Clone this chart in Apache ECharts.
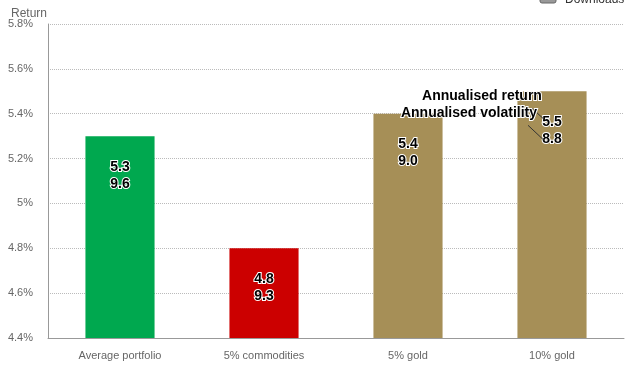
<!DOCTYPE html>
<html><head><meta charset="utf-8">
<script src="https://cdn.jsdelivr.net/npm/echarts@6/dist/echarts.min.js"></script>
<style>html,body{margin:0;padding:0;background:#fff}#c{width:629px;height:371px}</style>
</head><body><div id="c"></div>
<script>
var categories = ['Average portfolio', '5% commodities', '5% gold', '10% gold'];
var returns = [5.3, 4.8, 5.4, 5.5];
var volatility = [9.6, 9.3, 9.0, 8.8];
var barColors = ['#00A84F', '#CC0000', '#A68F57', '#A68F57'];
var yTicks = {min: 4.4, max: 5.8, interval: 0.2};
var annotationLines = ['Annualised return', 'Annualised volatility'];

var FONT = '"Liberation Sans", Arial, Helvetica, sans-serif';
var chart = echarts.init(document.getElementById('c'), null, {renderer: 'canvas'});
var data = returns.map(function (v, i) {
  return {value: v, itemStyle: {color: barColors[i]}, vol: volatility[i]};
});
chart.setOption({
  animation: false,
  textStyle: {fontFamily: FONT},
  title: {text: 'Return', left: 6, top: 3, textStyle: {fontSize: 12, fontWeight: 'normal', color: '#666', fontFamily: FONT}},
  grid: {left: 48, right: 5, top: 24, bottom: 33},
  xAxis: {
    type: 'category', data: categories,
    axisLine: {lineStyle: {color: '#999'}},
    axisTick: {show: false},
    axisLabel: {color: '#666', fontSize: 11, margin: 12, fontFamily: FONT}
  },
  yAxis: {
    type: 'value', min: yTicks.min, max: yTicks.max, interval: yTicks.interval,
    axisLine: {show: true, lineStyle: {color: '#999'}},
    axisTick: {show: false},
    axisLabel: {color: '#666', fontSize: 11, margin: 15, fontFamily: FONT,
      formatter: function (v) { return Number(v.toFixed(1)) + '%'; }},
    splitLine: {lineStyle: {type: 'dotted', color: '#bbb'}}
  },
  series: [{
    type: 'bar', data: data, barWidth: '48%',
    label: {
      show: true, position: 'insideTop', distance: 22,
      formatter: function (p) { return p.value.toFixed(1) + '\n' + p.data.vol.toFixed(1); },
      fontSize: 14, fontWeight: 'bold', color: '#000', lineHeight: 17,
      textBorderColor: '#fff', textBorderWidth: 2, fontFamily: FONT
    }
  }]
});

var p = chart.convertToPixel({seriesIndex: 0}, [3, returns[3]]);
var bx = p[0], by = p[1];
var annStyle = {fontSize: 14, fontWeight: 'bold', fill: '#000', stroke: '#fff', lineWidth: 2, fontFamily: FONT, align: 'center', verticalAlign: 'middle'};
chart.setOption({
  graphic: [
    {type: 'text', x: bx - 70, y: by + 5, style: Object.assign({text: annotationLines[0]}, annStyle), z: 100},
    {type: 'text', x: bx - 83, y: by + 22, style: Object.assign({text: annotationLines[1]}, annStyle), z: 100},
    {type: 'line', shape: {x1: bx - 20, y1: by + 17, x2: bx - 8, y2: by + 28}, style: {stroke: '#333', lineWidth: 1}, z: 99},
    {type: 'line', shape: {x1: bx - 24, y1: by + 34, x2: bx - 8, y2: by + 49}, style: {stroke: '#333', lineWidth: 1}, z: 99},
    {type: 'rect', shape: {x: 540, y: -8, width: 16, height: 11, r: 2}, style: {fill: '#999', stroke: '#666'}},
    {type: 'text', x: 565, y: -6, style: {text: 'Downloads', fontSize: 12, fill: '#333', fontFamily: FONT, verticalAlign: 'top', align: 'left'}, z: 100}
  ]
});
</script></body></html>
